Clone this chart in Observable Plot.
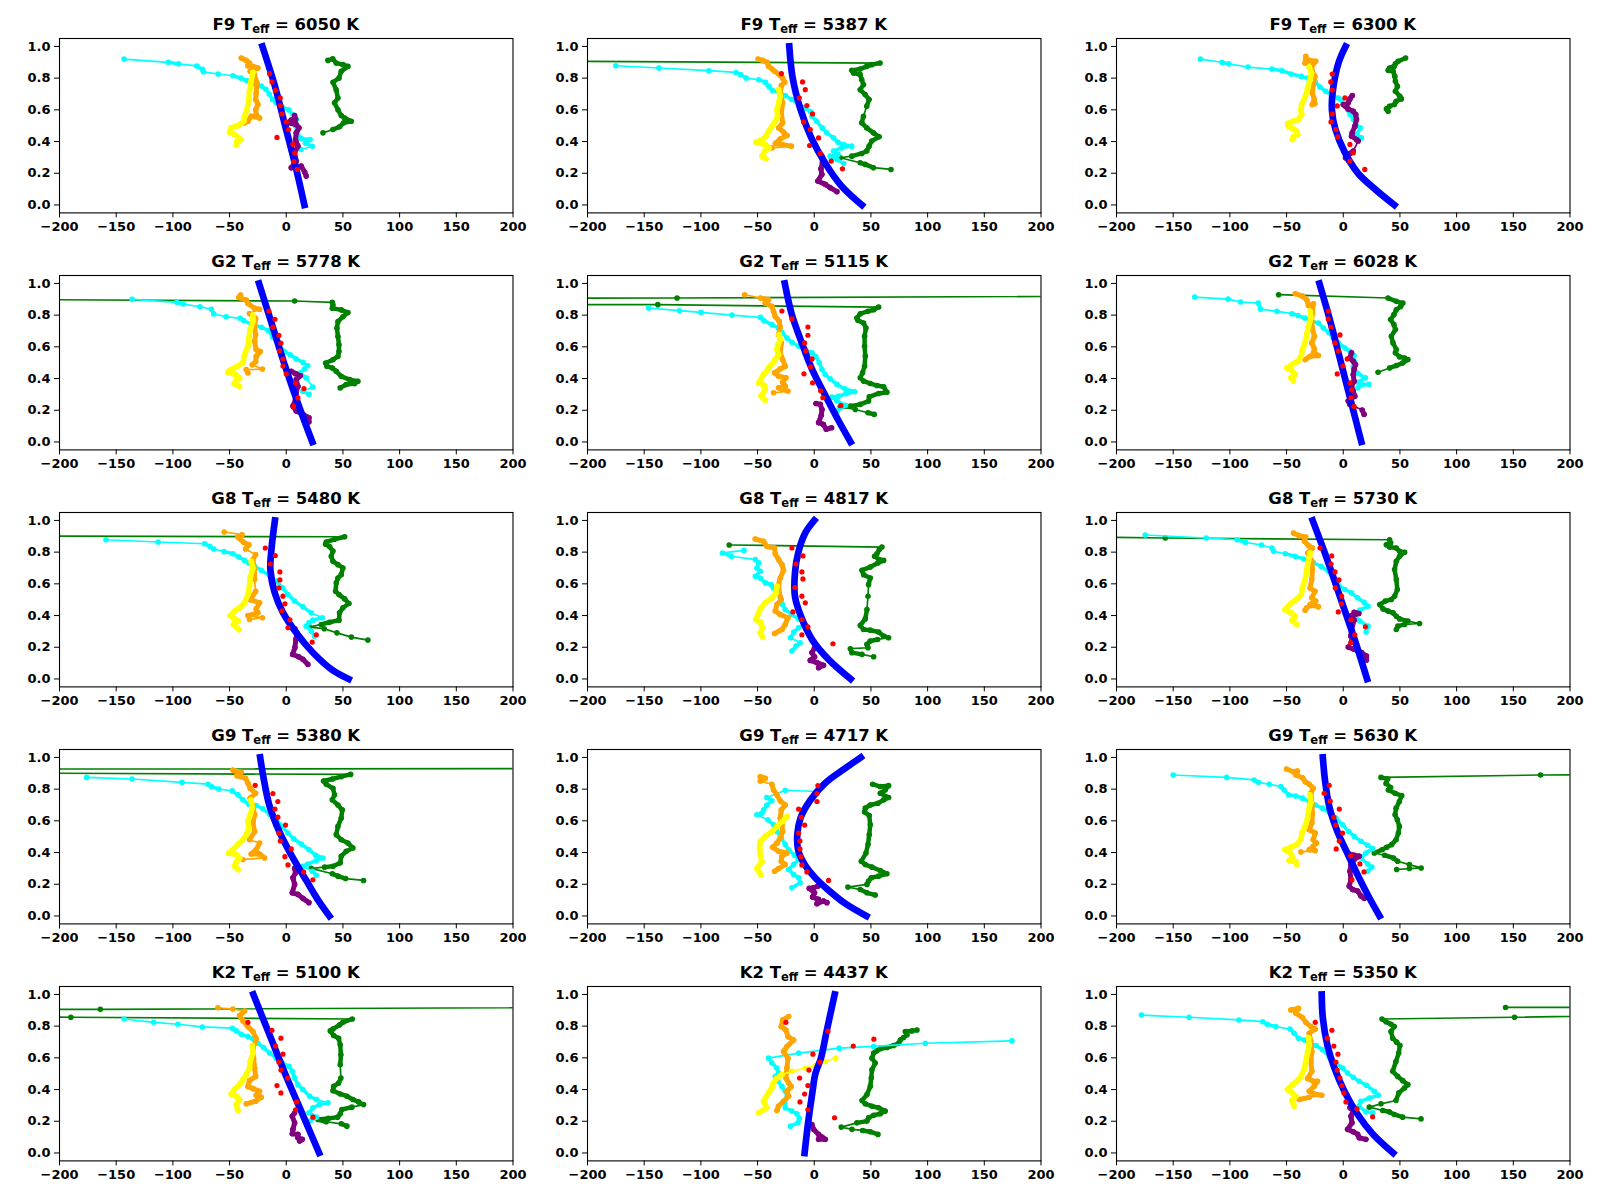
<!DOCTYPE html>
<html><head><meta charset="utf-8">
<script src="https://cdn.jsdelivr.net/npm/d3@7"></script>
<script src="https://cdn.jsdelivr.net/npm/@observablehq/plot@0.6"></script>
<style>
body{margin:0;background:#fff;}
#fig{position:relative;width:1600px;height:1200px;background:#fff;}
#fig svg{position:absolute;overflow:visible;}
</style></head><body><div id="fig"></div><script>
// ---- panel titles ----
const spectralTypes = ["F9","F9","F9","G2","G2","G2","G8","G8","G8","G9","G9","G9","K2","K2","K2"];
const teffValues = [6050,5387,6300,5778,5115,6028,5480,4817,5730,5380,4717,5630,5100,4437,5350];
const xTicks = [-200,-150,-100,-50,0,50,100,150,200];
const yTicks = [0,0.2,0.4,0.6,0.8,1.0];

// ---- series, one flat [x,y,x,y,...] list per panel ----
const cyanSeries = [
[-143,.92,-104,.90,-95,.89,-79,.877,-74,.855,-73,.84,-60,.826,-47,.815,-40,.80,-35,.785,-27,.76,-22,.75,-18,.73,-15,.70,-12,.665,-9,.645,-4,.62,2,.60,6,.57,9,.54,8,.50,10,.455,13,.42,21,.413,17,.39,23,.37,13,.35],
[-175,.878,-137,.864,-93,.847,-69,.836,-65,.822,-60,.80,-49,.79,-43,.774,-40,.748,-37,.723,-31,.711,-25.5,.69,-20,.665,-14,.639,-8,.612,-3.5,.59,-2,.56,2,.528,7,.486,11,.455,17,.423,21,.396,26,.381,33,.371,24,.36,17,.34,21,.319,14,.308,20,.287,26,.262],
[-126,.92,-107,.90,-101,.89,-84,.87,-63,.857,-54,.847,-46,.826,-37,.811,-31,.80,-25,.78,-20.5,.744,-15.5,.717,-10,.69,-4.4,.675,-1.5,.66,2,.633,4,.60,6,.57,9,.539,11,.507,15,.486,12,.444,16,.423,12,.41],
[-136,.90,-96.5,.881,-91,.87,-76,.853,-66,.837,-64,.808,-53,.79,-40.6,.78,-37.6,.766,-29.4,.738,-22,.724,-16,.703,-11.8,.661,-6.5,.613,-1.5,.571,3.5,.55,8.8,.523,14.7,.502,19,.481,16,.46,12,.435,17.6,.404,23.5,.347,14.7,.32,20,.30],
[-146,.845,-119,.828,-100,.818,-72.6,.80,-47.6,.786,-44.7,.767,-37.4,.74,-31.5,.719,-28.5,.692,-24,.656,-19.7,.629,-13.8,.604,-7.9,.583,-2,.562,1.5,.537,4.4,.499,6.8,.457,9.7,.426,14,.398,20,.363,27,.335,35.6,.317,28,.304,21.5,.289,15.6,.283,20,.258,27.6,.231,20,.195],
[-131,.914,-101.5,.901,-90.6,.883,-75,.876,-73,.838,-58.5,.824,-45.3,.809,-40,.797,-34,.782,-29,.767,-22,.75,-17.5,.719,-13,.692,-8.8,.656,-4.4,.625,1.5,.593,5.8,.572,9.6,.545,9.6,.509,8.8,.474,13,.432,19.6,.405,13,.377,16,.363,22.5,.363,13,.342],
[-159,.878,-113,.864,-72,.853,-67.6,.837,-64,.82,-55,.803,-47,.79,-41.8,.769,-36.8,.748,-33,.732,-28,.711,-22,.686,-14.7,.652,-8.8,.616,-2.9,.574,1.5,.532,7.4,.491,14.7,.455,22,.417,31.8,.386,23.5,.371,20,.355,17.6,.333,22,.302,25,.27],
[-62,.811,-81,.795,-73,.774,-52,.753,-49,.732,-50.6,.70,-47.6,.679,-52,.648,-47.6,.637,-43,.606,-38,.595,-36,.574,-33,.553,-30,.512,-28,.47,-25.6,.438,-19.7,.407,-13.8,.379,-7.9,.344,-13.8,.323,-18,.296,-21,.26,-12.4,.228,-16,.208,-19.7,.176],
[-174.6,.908,-120.8,.889,-93.6,.878,-86.3,.862,-72.2,.845,-62.9,.826,-61.4,.805,-51.2,.79,-42.4,.774,-35,.757,-30.7,.742,-26.3,.732,-19.6,.711,-13.2,.679,-8.8,.637,-4.4,.595,1.5,.564,7.3,.543,12.6,.512,18.4,.484,21.9,.459,14.6,.434,10.2,.396,14.6,.365,21.9,.333,20.2,.296],
[-176,.874,-136,.864,-92,.843,-69,.831,-66,.816,-59.4,.801,-47.6,.789,-42.6,.764,-38.2,.732,-33,.705,-26.5,.697,-20.6,.676,-14.7,.642,-8.8,.607,-3.5,.565,1.5,.523,6.5,.487,13.2,.454,20,.418,26,.383,32.4,.366,26.5,.349,19,.328,14.7,.314,23,.282,26.5,.257],
[3,.785,-25.6,.793,-41.8,.747,-37.4,.726,-41.8,.70,-44.7,.669,-46.2,.648,-50.6,.638,-40.9,.607,-35.9,.575,-32.9,.533,-29,.492,-25.6,.45,-22.6,.418,-17.4,.383,-13.8,.356,-18.2,.324,-22.6,.293,-18.2,.262,-13.8,.241,-12.4,.209,-19.7,.178],
[-150,.889,-102.8,.874,-78.7,.858,-74.8,.843,-65.4,.831,-55,.816,-52.2,.795,-48.3,.764,-41.8,.757,-36,.743,-30,.722,-24.7,.70,-18.3,.68,-12.4,.655,-6.5,.617,-0.6,.575,4.7,.533,9.7,.502,15.6,.471,21.5,.446,26,.425,20,.397,15.6,.366,21.5,.328,25.3,.308,21.5,.282],
[-143,.845,-117,.824,-95.6,.812,-74,.795,-47.6,.787,-44,.77,-39.7,.749,-33.8,.734,-29.4,.72,-25,.692,-20,.665,-14.7,.63,-8.8,.598,-3.5,.567,2.4,.546,5.3,.515,7.4,.473,10.3,.431,14.7,.40,20.6,.358,26.5,.337,36.8,.316,29.4,.305,23.5,.285,20,.253,26.5,.226,21,.201],
[174.4,.707,98,.692,52.4,.672,22,.661,-13.8,.63,-40.3,.598,-37.4,.567,-33,.536,-31.5,.504,-34.4,.483,-32,.452,-28.5,.42,-25.6,.389,-24,.351,-26,.316,-25.6,.285,-19.7,.264,-15.3,.247,-13.2,.218,-14.4,.19,-21,.169],
[-178,.87,-136,.856,-92,.839,-71,.828,-67,.812,-59.5,.797,-47,.782,-43.3,.755,-39.5,.724,-34.5,.713,-30,.692,-24,.678,-18.3,.651,-12.4,.609,-6.5,.567,-0.6,.536,3.8,.504,8.8,.477,14,.452,20.6,.427,27.4,.389,31,.364,23,.347,15.6,.326,14,.295,20,.259,26,.253]
];
const yellowSeries = [
[-29.4,.836,-31,.78,-32.4,.717,-33,.665,-34.7,.60,-36.8,.56,-37.6,.528,-41,.507,-44,.497,-48.5,.486,-50,.459,-45.6,.444,-41.8,.423,-39.7,.413,-43.5,.40,-44,.38],
[-31.4,.727,-30,.686,-31.4,.644,-32.8,.60,-32.3,.56,-34.3,.528,-37.2,.497,-40.2,.465,-42.5,.434,-46,.413,-51.3,.396,-43,.38,-40,.36,-43.7,.34,-46,.308,-42.5,.291],
[-30,.87,-28,.832,-29.3,.79,-31.4,.738,-33.7,.68,-36.7,.633,-37.2,.60,-36.7,.57,-39.6,.539,-44,.528,-49,.514,-48.4,.497,-45.5,.486,-41,.465,-40.2,.444,-44,.43,-44.9,.413],
[-29.4,.80,-29.4,.76,-31.8,.707,-33,.655,-33.8,.603,-36.8,.55,-38.2,.498,-44,.473,-50,.452,-51.5,.44,-44.7,.425,-41.2,.404,-44,.389,-46,.368,-41.2,.351],
[-30.9,.677,-30,.646,-32,.614,-32.9,.583,-31.5,.551,-34.4,.52,-37.4,.488,-40.3,.467,-41.8,.447,-44.7,.426,-49,.373,-43.8,.356,-43.2,.331,-46.8,.289,-43.2,.264],
[-29.2,.824,-28.4,.782,-30.7,.73,-32.2,.677,-33.6,.625,-36,.583,-37,.541,-40,.509,-45.3,.488,-49.7,.467,-46,.453,-42.4,.426,-46,.405,-44,.384],
[-30.9,.742,-29.4,.70,-31.8,.637,-32.4,.585,-33.8,.532,-36.8,.48,-41.2,.449,-45.6,.428,-49.4,.40,-45.6,.379,-42.6,.365,-46.5,.344,-41.8,.312],
[-32.9,.585,-33.8,.543,-37.4,.512,-43.2,.48,-47.6,.442,-49.7,.407,-51.5,.375,-47.6,.358,-45.6,.323,-47.6,.291,-45.6,.266],
[-29.2,.795,-30.7,.742,-32.2,.69,-33.6,.627,-36,.574,-37,.532,-41,.505,-46,.476,-51.2,.438,-46,.417,-42.4,.396,-45.3,.371,-41,.344],
[-31,.732,-30,.68,-31.8,.638,-33.8,.596,-33,.554,-35.3,.513,-38.2,.481,-42.6,.45,-47,.418,-50.6,.397,-44,.387,-41.2,.366,-44,.341,-45.6,.314,-42.6,.293],
[-24,.628,-28.5,.596,-33,.565,-37.4,.533,-43.2,.502,-47.6,.471,-48.2,.429,-47.6,.387,-46.2,.341,-50.6,.299,-46.8,.257],
[-29.5,.764,-28.6,.718,-30.6,.669,-31.5,.617,-33.6,.565,-36.5,.523,-37.4,.481,-41.2,.45,-46.3,.433,-51.3,.418,-46.3,.397,-44.8,.37,-47.7,.349,-41.8,.341,-41.2,.324],
[-30,.678,-29.4,.63,-31.8,.577,-32.4,.536,-35.3,.494,-38.2,.462,-41.2,.431,-45.6,.40,-48.5,.372,-44,.358,-41.2,.337,-44,.305,-42.6,.268],
[19,.598,9.7,.577,1,.552,-8,.536,-19.7,.515,-28.5,.494,-33,.473,-36,.441,-37.4,.41,-40.3,.379,-44.7,.326,-41.8,.285,-49,.253],
[-30.6,.728,-30,.682,-31.5,.63,-33,.577,-34.5,.525,-37.4,.483,-40.4,.456,-44.8,.431,-49.2,.40,-44.8,.379,-41.8,.358,-45.4,.331,-43.3,.295]
];
const orangeSeries = [
[-39.7,.927,-35.3,.912,-32.4,.895,-33.8,.878,-29.4,.874,-25,.864,-31.8,.843,-28,.822,-25.9,.77,-26.5,.706,-27,.665,-25,.633,-27,.60,-26.5,.57,-23.5,.549,-30.9,.56,-33.8,.528,-36.8,.518],
[-49.6,.92,-45.5,.912,-41.6,.90,-40.2,.874,-37.2,.857,-34.9,.843,-30.8,.822,-27.9,.80,-26.1,.774,-29,.753,-29.9,.706,-27.9,.644,-29,.58,-27.9,.518,-31.4,.486,-27,.459,-24,.438,-29.9,.417,-34.3,.388,-28.4,.381,-20.2,.371,-37.2,.36],
[-33,.937,-33.7,.895,-29.3,.912,-24.3,.906,-27.9,.874,-27.3,.843,-25,.811,-26.4,.759,-27.3,.706,-25.5,.665,-27.3,.633,-25,.639],
[-40.3,.927,-41.8,.912,-35.3,.895,-33.8,.874,-28,.843,-23.5,.837,-32.4,.81,-27,.78,-27.9,.728,-27,.676,-27.9,.634,-26.5,.582,-22.9,.571,-26.5,.54,-27,.508,-30,.487,-21,.46,-35.3,.456,-33.8,.435],
[-61.5,.929,-47.6,.908,-40.3,.897,-43.2,.876,-37.4,.855,-35.9,.824,-34.4,.792,-30.9,.761,-30,.725,-31.5,.677,-29,.625,-30,.562,-27.9,.52,-25.6,.478,-30,.461,-35,.436,-31.5,.415,-25,.405,-27.9,.377,-25.6,.352,-31.5,.342,-23.2,.321,-35.9,.31],
[-42.4,.935,-36.5,.922,-32.2,.897,-30.7,.86,-26.3,.872,-27.2,.813,-27.8,.761,-27.2,.709,-25.4,.667,-27.8,.625,-25.4,.587,-26.3,.562,-21.9,.545,-29.2,.54,-33.6,.52],
[-54.7,.927,-39,.91,-42.6,.895,-37.6,.862,-33,.847,-35.9,.82,-27,.784,-29.4,.753,-28,.69,-28,.627,-27,.553,-31.8,.50,-23.5,.48,-26.5,.442,-25,.417,-33.8,.40,-21,.386,-32.4,.375],
[-52.1,.883,-44.7,.868,-41.8,.836,-35,.826,-34.4,.79,-31.5,.753,-28.5,.721,-27.1,.686,-30,.637,-31.5,.595,-30.9,.543,-29.1,.501,-32.9,.47,-34.4,.428,-30,.407,-23.2,.386,-25.6,.344,-28.5,.312,-35,.287],
[-43.9,.92,-38.9,.904,-33.1,.895,-34.2,.868,-30.7,.841,-27.2,.826,-31.3,.795,-27.8,.742,-27.2,.69,-27.8,.627,-29.2,.574,-24.9,.553,-27.8,.512,-24.3,.491,-29.2,.47,-21.9,.455,-32.2,.449,-33.6,.434],
[-47.1,.92,-39.7,.906,-43.5,.885,-35.9,.868,-33.8,.837,-31.8,.805,-27,.774,-31.8,.743,-29.4,.69,-27.9,.638,-29.4,.586,-27.9,.533,-32.4,.481,-23.5,.46,-26.5,.418,-30.9,.391,-23.5,.391,-19.1,.366,-38.2,.356],
[-47.6,.879,-43.2,.868,-47.6,.851,-37.4,.831,-35.9,.795,-32.9,.764,-30,.726,-25.6,.70,-29.1,.669,-30,.617,-28.5,.575,-27.9,.533,-30,.492,-32.9,.46,-36.8,.433,-31.5,.408,-24.1,.397,-28.5,.377,-29.1,.345,-25.6,.324,-31.5,.299,-35,.282],
[-50.1,.927,-44.2,.91,-40.4,.914,-41.8,.889,-35.9,.872,-33.6,.847,-30,.831,-26.5,.805,-28.6,.774,-27.7,.711,-27.1,.649,-27.7,.586,-30,.544,-24.7,.523,-26.5,.481,-23.6,.46,-26.5,.439,-30,.418,-24.7,.412,-37.4,.404],
[-60.3,.916,-47.1,.908,-36.8,.895,-41.2,.866,-38.2,.833,-33.8,.797,-29.4,.766,-26.5,.72,-29.4,.661,-28.8,.598,-27.9,.536,-27,.483,-32.4,.456,-33.8,.42,-29.4,.406,-23.5,.389,-26.5,.364,-22,.351,-27,.326,-35.3,.31],
[-22.6,.86,-27.9,.839,-29.1,.797,-25,.776,-23.2,.734,-18.2,.713,-24.1,.672,-27.1,.64,-23.2,.598,-24.1,.536,-25,.473,-22.6,.441,-20.3,.42,-24.1,.389,-22.6,.358,-27.1,.326,-31.5,.295,-32.9,.268],
[-46.3,.902,-39.5,.912,-41.8,.881,-35.9,.854,-33,.824,-28.6,.797,-24.7,.782,-30,.755,-28.6,.703,-27.7,.64,-28.6,.577,-27.7,.515,-31.5,.469,-26.5,.452,-22.7,.452,-25.6,.421,-30,.389,-25.6,.372,-18.9,.364,-30,.351,-38.9,.337]
];
const purpleSeries = [
[7.4,.564,8.2,.539,4.4,.535,1.5,.518,8.8,.507,11.2,.486,8.8,.455,8.2,.413,10.3,.371,7.4,.33,8.8,.277,4.4,.235,13.2,.245,16.2,.208,17.6,.182],
[6.7,.308,7.3,.27,5.9,.228,6.7,.193,3.2,.151,9.7,.13,14.1,.109,20,.084],
[8,.69,5.9,.669,4.4,.644,2,.623,0,.633,4.4,.606,8.8,.591,11,.57,11.7,.539,10.3,.497,7.9,.455,7.3,.434,11.7,.413,13.2,.403,8.8,.34,5.9,.325,2,.298,5,.277,7.3,.262],
[4.4,.446,8.2,.431,12.4,.418,8.8,.393,10.3,.351,8.8,.31,8.2,.268,5.9,.226,8.8,.195,14.7,.174,20,.153,20,.126],
[1.5,.243,5.3,.237,6.8,.205,6.2,.168,3.8,.122,7.9,.111,10.6,.08,15.3,.09],
[7.3,.562,5.8,.53,8.8,.509,10.8,.488,9.6,.459,8.8,.424,9.6,.383,7.3,.352,8.8,.321,10.2,.289,4.4,.258,5.8,.237,16.7,.201,18.4,.174],
[7.6,.317,9.4,.291,8.5,.249,7.6,.197,5.6,.155,10.9,.14,14.7,.124,19.1,.092],
[0.3,.197,-2,.166,0.3,.14,-3.5,.117,2.4,.103,8.2,.086,3.8,.071],
[9.6,.421,13.7,.413,7.3,.40,9.6,.371,7.3,.312,6.7,.27,4.4,.201,9.6,.187,16.1,.166,20.5,.145,20.5,.119],
[7.4,.30,8.2,.272,5.9,.241,7.4,.199,5.3,.146,10.3,.136,14.7,.111,20,.084],
[3.2,.188,-0.6,.178,-4.4,.174,0.3,.146,-1.5,.119,3.8,.105,2.4,.077,8.2,.094,11.2,.084],
[5.3,.391,9.7,.383,14.1,.377,9.7,.356,6.8,.324,5.9,.282,6.8,.23,5.3,.188,8.2,.167,12.7,.157,15.6,.126,18.6,.111],
[7.4,.253,5.3,.232,7.4,.19,5.9,.149,5.3,.121,10.3,.117,10.3,.096,14.1,.086,11.8,.075],
[-2.1,.18,-0.6,.149,3.8,.117,6.8,.10,9.7,.086,3.8,.086],
[5.9,.285,8.8,.268,6.8,.232,7.7,.19,3.8,.149,8.8,.134,12.7,.117,14.1,.096,20,.086]
];
const greenSeries = [
[36.8,.912,41,.922,44.1,.895,50,.885,54.4,.874,48.5,.843,46.5,.80,41.2,.774,44,.727,45.6,.675,42.6,.644,45.6,.60,48.5,.564,51.5,.549,57.3,.528,50.6,.518,47,.493,41.2,.476,32.4,.455],
[-800,.93,58,.895,50.7,.885,46.3,.874,40.5,.857,33.1,.849,34.6,.832,40.5,.822,41.9,.79,43.4,.759,40.5,.727,44.9,.696,48.4,.665,46.3,.623,43.4,.56,41.9,.518,46.3,.486,52.2,.455,57.2,.43,50.7,.403,48.4,.371,46.3,.34,41.9,.325,33.1,.308,22.9,.298,40.5,.266,44.9,.256,52.2,.235,67.7,.224],
[55,.927,48.4,.906,46,.89,44.9,.874,40.8,.864,39.6,.849,44,.843,45.5,.811,46,.78,47.8,.748,46,.717,49.9,.686,51.3,.669,46.6,.654,45.2,.633,40.8,.623,38.1,.606,39.6,.591],
[-800,.92,7.4,.889,40.6,.881,41.2,.864,40.6,.843,48.5,.833,54.4,.816,50,.79,45.6,.759,44.7,.718,45.6,.665,46.5,.613,46.5,.571,45.6,.54,41.2,.519,34.7,.498,35.9,.477,40.6,.467,44.1,.446,48.5,.414,55.9,.393,63.2,.383,60.3,.368,52.9,.362,47.6,.341],
[1000,.943,-121,.908,-3000,.90,-138,.866,56.8,.851,52.4,.834,47.4,.824,40.6,.809,37.6,.782,38.5,.767,43.5,.75,45.6,.719,44.4,.667,44.4,.604,45,.541,44.4,.478,42.6,.436,40.6,.405,43.5,.384,49.4,.369,55.3,.356,61.2,.348,64.1,.314,56.8,.306,48.5,.285,47.9,.258,40.6,.237,31.8,.226,22.9,.222,36.2,.205,47.4,.184,52.9,.174],
[-57,.929,39.5,.908,46.8,.887,52.6,.876,50.6,.855,46.8,.834,44.7,.803,41.8,.772,44.7,.74,46,.709,42.4,.667,43.9,.625,46.8,.583,46,.562,49.7,.537,54.1,.53,57,.52,52.6,.499,46.8,.482,40.9,.467,30.7,.44],
[-800,.91,51.5,.897,42.6,.881,35.3,.864,34.7,.85,38.2,.835,41.2,.807,39.7,.774,41.2,.742,45.6,.721,50,.70,48.5,.658,45.6,.637,44.1,.606,43.5,.553,46.5,.532,51.5,.505,55.3,.476,50,.449,47,.417,46.5,.371,38.2,.358,30.9,.344,20.6,.327,33.5,.317,44.7,.291,57.4,.264,72,.245],
[-75,.845,59.7,.832,57.4,.816,55.3,.79,53.2,.774,57.4,.753,61.2,.748,56.2,.732,49.4,.706,42.1,.686,43.5,.658,49.4,.637,47.9,.595,47.4,.522,46.5,.438,45,.379,40.6,.338,43.5,.312,49.4,.308,56.8,.296,61.2,.27,65.6,.26,55.9,.249,49.4,.239,46.5,.218,47.4,.197,31.8,.191,33.2,.166,42.1,.155,52.4,.14],
[-400,.91,-157,.889,40.9,.878,41.8,.857,38,.847,40.9,.832,46.8,.826,49.7,.805,54.1,.799,49.7,.774,46.8,.742,45.3,.69,46.8,.627,47.7,.564,45.3,.522,42.4,.501,37.1,.491,32.2,.47,35.1,.442,39.5,.428,43.9,.417,46.8,.396,49.7,.379,57,.365,67.3,.35,54.1,.344,48.2,.333,46.8,.312],
[2000,.941,-1000,.922,56.8,.893,48.5,.879,40.6,.864,32.9,.851,35.3,.831,41.2,.805,42.6,.764,40.6,.732,45.6,.70,49.4,.669,48.5,.617,45.6,.565,44.1,.513,48.5,.481,54.4,.46,58.8,.429,52.9,.408,48.5,.377,47.6,.335,41.2,.314,33.8,.308,22,.30,40.6,.266,45.6,.251,52.4,.236,68.2,.224],
[51.5,.831,58.2,.816,65.6,.822,62.6,.795,58.2,.774,65.6,.747,61.2,.732,56.2,.711,49.4,.70,45,.68,44.4,.655,48.5,.634,49.4,.575,48.5,.513,47.4,.45,45.6,.397,41.5,.345,45,.324,50.9,.308,58.2,.287,64.1,.266,56.8,.251,50.3,.241,47.9,.22,46.5,.199,29.7,.182,40.6,.167,46.5,.146,53.8,.132],
[400,.90,174,.889,33.3,.874,39.2,.864,37.7,.836,41.8,.81,39.8,.795,45.7,.774,51.6,.759,49.5,.722,46.6,.68,45.7,.638,47.7,.607,49.5,.565,48.6,.523,46.6,.481,42.7,.45,38.3,.433,34.2,.418,27.4,.397,36.5,.383,44.2,.366,48,.345,58.3,.324,68.7,.303,58.3,.299,47.1,.293],
[1000,.938,-164,.906,-3000,.91,-190,.856,58.2,.845,50,.824,47.1,.808,41.2,.782,38.8,.77,41.8,.741,46.2,.724,47.6,.682,48.2,.619,47.6,.556,48.2,.473,46.2,.441,41.8,.42,41.2,.393,47.6,.372,53.5,.358,58.8,.337,63.8,.322,68.2,.305,57.9,.289,49.1,.274,47.6,.247,45.3,.226,37.1,.218,28,.211,35.3,.197,48.5,.184,53.5,.169],
[90.6,.776,86.2,.77,80.3,.766,81.8,.745,78.8,.728,75.9,.713,74.4,.692,70,.678,64.1,.665,58.2,.657,55.3,.644,52.4,.63,50.9,.598,53.8,.567,50.9,.525,50.3,.473,49.4,.42,46.5,.368,42.1,.331,45,.31,50.9,.295,56.8,.285,62.6,.264,58.2,.247,52.4,.238,47.9,.222,46.5,.201,37.6,.19,23.8,.163,33.2,.149,42.6,.142,49.4,.134,56.2,.117],
[143.2,.918,660,.918,151.1,.856,34.2,.845,37.7,.828,42.1,.812,45,.797,42.1,.766,43.6,.724,47.1,.699,50,.678,48.9,.63,46.5,.577,43.6,.515,48,.483,52.5,.456,57,.431,54,.41,49,.379,46.5,.331,33.3,.31,23,.289,34.8,.268,40.7,.259,45.1,.243,52.4,.226,68.6,.215]
];
const redPoints = [
[-14.7,.828,-12.6,.776,-9.4,.723,-5.3,.675,-5.3,.627,-3.8,.574,0,.524,2,.476,-8.2,.426,5.9,.382,7.4,.329,6.8,.273,9.7,.224],
[-29,.828,-10.3,.776,-7.9,.727,-13.2,.675,-6.5,.627,-1.5,.574,-9.4,.524,-3.5,.476,3.8,.423,-4.1,.375,5.3,.325,15,.277,24.9,.228],
[-9.7,.826,-11,.776,-9.7,.725,1.5,.675,-5.3,.625,-9.7,.574,-10.8,.524,-6.5,.476,-5,.43,5.9,.382,8.8,.329,5.9,.277,19,.224],
[-15.3,.826,-10,.774,-11.8,.724,-6.5,.672,-4.7,.623,-5.9,.575,-2.9,.523,-2.9,.479,0,.429,8.2,.372,15.6,.337,10.3,.278,6.5,.224],
[-28.5,.826,-19.7,.776,-5.6,.725,-5.6,.673,-8.5,.625,-7.4,.574,-2,.524,-3.2,.474,-9.1,.43,-1.5,.373,5.6,.323,7.6,.279,23.5,.229],
[-13.2,.826,-13.2,.776,-10.8,.725,-2.9,.675,-7.3,.625,-4.4,.574,3.5,.524,-0.3,.479,-5.3,.429,6.1,.373,7.3,.329,6.7,.279,9.6,.224],
[-18.5,.826,-9.7,.778,-14.1,.725,-5.6,.675,-5.6,.625,-6.5,.574,-2.9,.522,-1.2,.474,-3.8,.43,3.2,.373,1.5,.323,26.5,.279,22.9,.233],
[-19.7,.826,-10,.776,-16.2,.725,-10.9,.675,-10,.631,-17.1,.577,-10.9,.522,-7.9,.48,-18.8,.423,-10.9,.375,-5.6,.329,-10.9,.279,16.5,.222],
[-20.5,.826,-10.2,.776,-10.8,.725,-7.3,.675,-3.8,.625,-7,.574,-1.5,.522,-1.5,.474,-4.4,.423,6.7,.373,19.6,.329,10.2,.279,6.7,.229],
[-27.4,.824,-11.8,.772,-7.4,.722,-10,.674,-7.4,.623,-0.6,.573,-6.5,.523,-5.3,.473,4.4,.423,-1.2,.374,1.5,.322,15.3,.278,23.5,.228],
[3.2,.822,2.4,.772,2.4,.722,-13.8,.674,-11.5,.623,-8.5,.573,-13.8,.523,-12.6,.473,-12.6,.423,-11.8,.374,-10.9,.322,-6.5,.278,12.6,.224],
[-12.4,.824,-16.8,.774,-11.5,.724,-3.5,.674,-8.3,.623,-6.5,.573,-0.6,.523,-3.5,.473,-6.2,.423,6.5,.379,14.7,.328,18.3,.278,7.7,.228],
[-33.8,.824,-12.6,.774,-4.7,.724,-9.4,.674,-2.9,.623,-6.5,.573,-4.7,.523,1.2,.473,-8.2,.425,-4.7,.379,9.1,.322,8.2,.272,23.5,.226],
[-25,.824,12.1,.768,52.6,.718,34.4,.674,-1.2,.623,5,.573,-4.7,.523,-12.9,.473,-5.6,.425,-8.5,.372,-12.6,.322,-5.6,.272,17.9,.222],
[-24.7,.824,-10,.774,-14.1,.724,-8.3,.674,-4.7,.623,-6.5,.573,-5.3,.523,-2.9,.473,-1.2,.425,0.6,.379,2.4,.322,12.1,.278,25.9,.228]
];
const blueCurves = [
[-21,1,-10,.75,-1,.5,8,.25,16,0],
[-22,1,-19,.8,-12,.6,-3,.43,10,.26,24,.12,42,0],
[2,1,-4,.9,-9,.73,-10,.6,-7,.48,1.5,.33,13,.2,28,.1,45,0],
[-24,1,-13,.75,-2,.5,10,.25,23,0],
[-26,1,-20,.81,-11,.625,-2,.46,10,.29,21,.14,32,0],
[-21,1,-11,.75,-2,.5,7,.25,16,0],
[-10,1,-13,.82,-14,.69,-10,.54,-3,.42,9,.29,23,.17,40,.06,55,0],
[0,1,-8,.92,-14,.8,-17,.67,-17,.52,-12,.4,-2,.25,13,.12,32,0],
[-27,1,-14,.75,-2,.5,10,.25,21,0],
[-23,1,-20,.87,-15,.7,-6,.53,4,.39,18,.22,29,.09,38,0],
[41,1,27,.93,10,.84,-3.5,.73,-12,.62,-15,.51,-14,.41,-8,.32,1,.24,13,.16,27,.08,46,0],
[-18,1,-16,.85,-12,.68,-5,.53,4,.39,14,.24,23,.115,32,0],
[-29,1,-15,.75,-1,.5,14,.25,29,0],
[18,1,11,.77,6,.6,1,.5,-1.5,.39,-5.6,.18,-8.5,0],
[-19,1,-18,.85,-14,.68,-8,.54,1,.39,13,.24,26,.12,44,0]
];

// ---- layout ----
const colLeft = [59.3, 587.3, 1115.5];
const rowTop = [38.3, 275.3, 512.3, 749.3, 986.3];
const FW = 453.5, FH = 174.4;
const ML = 50, MR = 10, MT = 32, MB = 30;
const PXX = FW / 400, PXY = FH / 1.1;   // pixels per data unit (for the dense-run overlay)

const pairs = a => { const o = []; for (let k = 0; k < a.length; k += 2) o.push({x: a[k], y: a[k + 1]}); return o; };
// consecutive point pairs that lie close together on screen -> drawn thicker (overlapping markers)
const denseRuns = pts => {
  const o = [];
  for (let k = 1; k < pts.length; k++) {
    const a = pts[k - 1], b = pts[k];
    const d = Math.hypot((b.x - a.x) * PXX, (b.y - a.y) * PXY);
    if (d < 10.5) { o.push({x: a.x, y: a.y, s: k}); o.push({x: b.x, y: b.y, s: k}); }
  }
  return o;
};
const fig = document.getElementById("fig");
const FONT = "'DejaVu Sans', sans-serif";

function seriesMarks(raw, color, thick) {
  const data = pairs(raw);
  return [
    Plot.line(data, {x: "x", y: "y", stroke: color, strokeWidth: 1.7, strokeLinejoin: "round", clip: true}),
    Plot.line(denseRuns(data), {x: "x", y: "y", z: "s", stroke: color, strokeWidth: thick, strokeLinecap: "round", clip: true}),
    Plot.dot(data, {x: "x", y: "y", fill: color, r: 2.8, clip: true})
  ];
}

for (let i = 0; i < 15; i++) {
  const r = Math.floor(i / 3), c = i % 3;
  const svg = Plot.plot({
    width: FW + ML + MR, height: FH + MT + MB,
    marginLeft: ML, marginRight: MR, marginTop: MT, marginBottom: MB,
    style: {fontFamily: FONT, fontSize: "13px", fontWeight: "bold", color: "black", background: "transparent", overflow: "visible"},
    x: {domain: [-200, 200]},
    y: {domain: [-0.05, 1.05]},
    marks: [
      ...seriesMarks(greenSeries[i], "green", 4.5),
      ...seriesMarks(cyanSeries[i], "cyan", 3.5),
      ...seriesMarks(orangeSeries[i], "orange", 5),
      ...seriesMarks(yellowSeries[i], "yellow", 5.5),
      ...seriesMarks(purpleSeries[i], "purple", 5),
      Plot.line(pairs(blueCurves[i]), {x: "x", y: "y", stroke: "blue", strokeWidth: 6.7, curve: "catmull-rom", strokeLinecap: "square"}),
      Plot.dot(pairs(redPoints[i]), {x: "x", y: "y", fill: "red", r: 2.6, clip: true}),
      Plot.frame({stroke: "black", strokeWidth: 1.1}),
      Plot.axisX({ticks: xTicks, tickSize: 5, tickPadding: 4, label: null, tickFormat: d => (d < 0 ? "\u2212" : "") + Math.abs(d)}),
      Plot.axisY({ticks: yTicks, tickSize: 5, tickPadding: 4, label: null, tickFormat: d => d.toFixed(1)})
    ]
  });
  svg.style.left = (colLeft[c] - ML) + "px";
  svg.style.top = (rowTop[r] - MT) + "px";
  // title with subscript
  const t = d3.select(svg).append("text")
    .attr("x", ML + FW / 2).attr("y", MT - 8.3)
    .attr("text-anchor", "middle")
    .style("font-family", FONT).style("font-weight", "bold").style("font-size", "16.5px").attr("fill", "black");
  t.append("tspan").text(spectralTypes[i] + " T");
  t.append("tspan").text("eff").style("font-size", "11.5px").attr("dy", 3.5);
  t.append("tspan").text(" = " + teffValues[i] + " K").attr("dy", -3.5);
  fig.appendChild(svg);
}
</script></body></html>
